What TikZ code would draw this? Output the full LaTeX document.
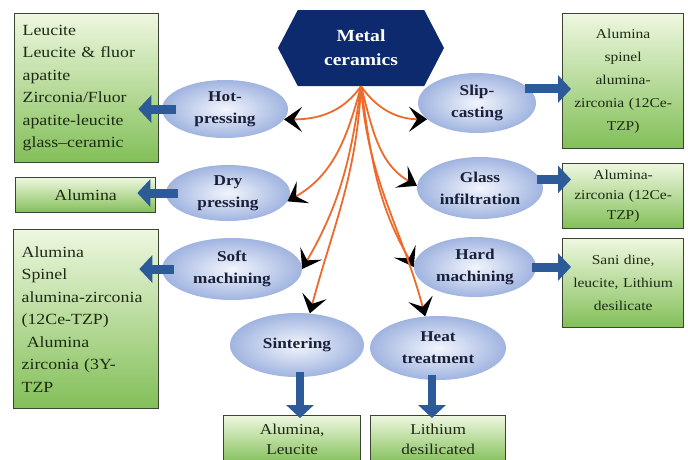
\documentclass[tikz,border=0pt]{standalone}
\usepackage{fontspec}
\setmainfont{Liberation Serif}[FakeStretch=1.15]
\usetikzlibrary{arrows.meta,shapes.geometric,shapes.symbols}
\definecolor{navy}{HTML}{0E2A6E}
\definecolor{bxborder}{HTML}{3A4632}
\definecolor{bxtop}{HTML}{EEF7DF}
\definecolor{bxbot}{HTML}{82BF58}
\definecolor{ellin}{HTML}{F2F5FC}
\definecolor{ellout}{HTML}{A0B4E0}
\definecolor{flow}{HTML}{2D5A98}
\definecolor{fan}{HTML}{EE6A2A}
\definecolor{ink}{HTML}{1A1F3A}
\definecolor{boxink}{HTML}{1E2A14}

\tikzset{
  proc/.style={ellipse, inner color=ellin, outer color=ellout, text=ink,
    font=\bfseries\fontsize{15}{22}\selectfont, align=center, inner sep=0pt},
  matbox/.style={draw=bxborder, line width=1.3pt, top color=bxtop, bottom color=bxbot,
    text=boxink, font=\fontsize{15.5}{22.5}\selectfont, inner sep=3pt, anchor=north west},
  leftbox/.style={matbox, inner xsep=8pt, align=left},
  rightbox/.style={matbox, font=\fontsize{13.5}{23}\selectfont, inner sep=2pt,
    minimum width=121pt, text width=117pt, align=center},
  flowarrow/.style={draw=flow, line width=9pt, -{Triangle[length=13pt,width=27pt]}},
  fanline/.style={draw=fan, line width=1.8pt, -{Stealth[length=18pt,width=25pt,inset=8pt,black]}},
}

\begin{document}
\begin{tikzpicture}[x=1pt,y=-1pt]
\useasboundingbox (0,0) rectangle (688,459);

% central material
\node[signal, signal to=east and west, signal pointer angle=125, fill=navy,
  minimum width=166pt, minimum height=76pt, text=white, align=center,
  font=\bfseries\fontsize{17}{24}\selectfont] (mc) at (361,48) {Metal\\ceramics};

% processing routes
\node[proc, minimum width=126pt, minimum height=58pt] (hot)   at (225,109) {Hot-\\pressing};
\node[proc, minimum width=124pt, minimum height=56pt] (dry)   at (228,193) {Dry\\pressing};
\node[proc, minimum width=140pt, minimum height=62pt] (soft)  at (232,269) {Soft\\machining};
\node[proc, minimum width=118pt, minimum height=60pt] (slip)  at (477,103) {Slip-\\casting};
\node[proc, minimum width=126pt, minimum height=62pt] (glass) at (480,188) {Glass\\infiltration};
\node[proc, minimum width=122pt, minimum height=60pt] (hard)  at (475,267) {Hard\\machining};
\node[proc, minimum width=134pt, minimum height=64pt] (sint)  at (297,345) {Sintering};
\node[proc, minimum width=136pt, minimum height=64pt] (heat)  at (438,348) {Heat\\treatment};

% resulting materials
\node[leftbox, minimum width=144pt, minimum height=149pt, text width=128pt] (b1) at (14,13)
  {Leucite\\Leucite \& fluor\\apatite\\Zirconia/Fluor\\apatite-leucite\\glass–ceramic};
\node[matbox, minimum width=140pt, minimum height=35pt, text width=132pt, align=center] (b2) at (15,177)
  {Alumina};
\node[leftbox, minimum width=145pt, minimum height=179pt, text width=129pt] (b3) at (13,229)
  {Alumina\\Spinel\\alumina-zirconia\\(12Ce-TZP)\\\ Alumina\\zirconia (3Y-\\TZP};
\node[rightbox, minimum height=135pt] (r1) at (562,13)
  {Alumina\\spinel\\alumina-\\zirconia (12Ce-\\TZP)};
\node[rightbox, minimum height=65pt, font=\fontsize{13.5}{20}\selectfont] (r2) at (562,163)
  {Alumina-\\zirconia (12Ce-\\TZP)};
\node[rightbox, minimum height=89pt] (r3) at (562,238)
  {Sani dine,\\leucite, Lithium\\desilicate};
\node[matbox, minimum width=137pt, minimum height=48pt, text width=131pt, align=center,
  font=\fontsize{15}{20}\selectfont] (bt1) at (223,415)
  {Alumina,\\Leucite};
\node[matbox, minimum width=135pt, minimum height=48pt, text width=129pt, align=center,
  font=\fontsize{15}{20}\selectfont] (bt2) at (370,415)
  {Lithium\\desilicated};

% route -> material
\draw[flowarrow, shorten <=-14pt, shorten >=-21pt] (hot.west) -- (hot.west -| b1.east);
\draw[flowarrow, shorten <=-12pt, shorten >=-19pt] (dry.west) -- (dry.west -| b2.east);
\draw[flowarrow, shorten <=-12pt, shorten >=-20pt] (soft.west) -- (soft.west -| b3.east);
\draw[flowarrow, shorten <=-4pt, shorten >=-9pt] (slip.15) -- (slip.15 -| r1.west);
\draw[flowarrow, shorten <=-4pt, shorten >=-9pt] (glass.8) -- (glass.8 -| r2.west);
\draw[flowarrow, shorten <=-4pt, shorten >=-9pt] (hard.east) -- (hard.east -| r3.west);
\draw[flowarrow, line width=8pt, shorten <=-5pt, shorten >=-3pt] ([xshift=3pt]sint.south) -- ([xshift=3pt]sint.south |- bt1.north);
\draw[flowarrow, line width=8pt, shorten <=-5pt, shorten >=-3pt] ([xshift=-6pt]heat.south) -- ([xshift=-6pt]heat.south |- bt2.north);

% metal ceramics -> routes
\draw[fanline] (mc.south) to[out=-125, in=0]   (hot.-10);
\draw[fanline] (mc.south) to[out=-105, in=30]  (dry.-8);
\draw[fanline] (mc.south) to[out=-98,  in=60]  (soft.east);
\draw[fanline] (mc.south) to[out=-93,  in=75]  (sint.68);
\draw[fanline] (mc.south) to[out=-55,  in=180] (slip.198);
\draw[fanline] (mc.south) to[out=-75,  in=150] (glass.178);
\draw[fanline] (mc.south) to[out=-82,  in=120] (hard.west);
\draw[fanline] (mc.south) to[out=-86,  in=105] (heat.112);
\end{tikzpicture}
\end{document}
